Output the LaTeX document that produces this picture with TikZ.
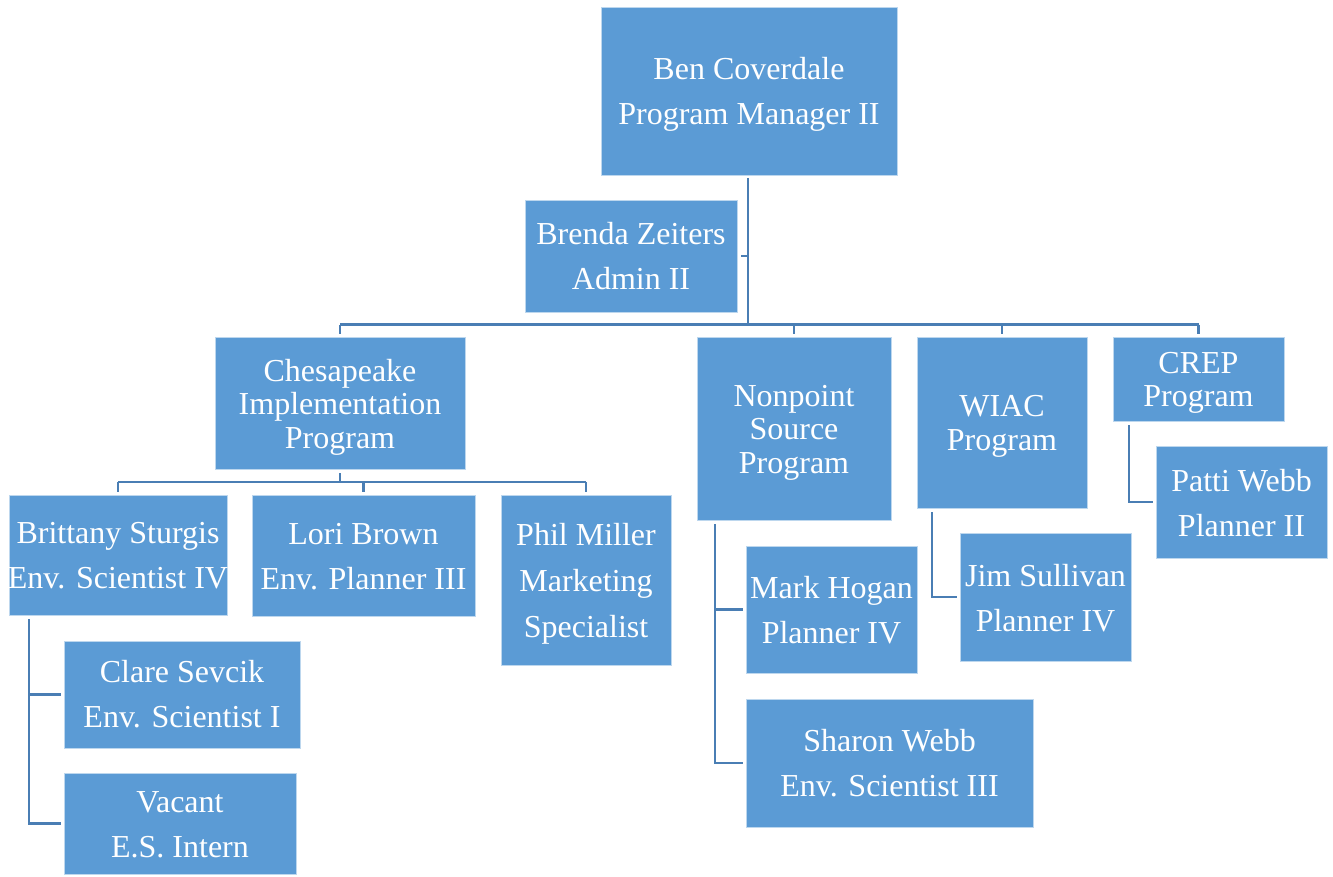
\documentclass[tikz,border=0pt]{standalone}
\usepackage{fontspec}
\setmainfont{Liberation Serif}
\definecolor{boxfill}{HTML}{5B9BD5}
\definecolor{boxedge}{HTML}{BDD7EE}
\definecolor{linkcol}{HTML}{4A7EB4}
\tikzset{
  orgbox/.style={rectangle, fill=boxfill, draw=boxedge, line width=0.8pt,
    inner sep=0pt, outer sep=0pt},
  orgtext/.style={text=white, align=center, inner sep=0pt, font=\fontsize{32}{45}\selectfont},
  tight/.style={font=\fontsize{32}{33.5}\selectfont},
  link/.style={draw=linkcol, line width=2.6pt},
}
\begin{document}
\begin{tikzpicture}[x=1pt,y=-1pt]
\useasboundingbox (0,0) rectangle (1333,877);
% top levels
\node[orgbox, minimum width=296pt, minimum height=168pt] (ben) at (749,91) {};
\node[orgtext, yshift=-3pt] (bent) at (ben) {Ben Coverdale\\Program Manager II};
\node[orgbox, minimum width=212pt, minimum height=112pt] (brenda) at (631,256) {};
\node[orgtext] (brendat) at (brenda) {Brenda Zeiters\\Admin II};
% programs
\node[orgbox, minimum width=250pt, minimum height=132pt] (ches) at (340,403) {};
\node[orgtext, tight, yshift=-4pt] (chest) at (ches) {Chesapeake\\Implementation\\Program};
\node[orgbox, minimum width=194pt, minimum height=183pt] (nps) at (794,428.5) {};
\node[orgtext, tight, yshift=-4pt] (npst) at (nps) {Nonpoint\\Source\\Program};
\node[orgbox, minimum width=170pt, minimum height=171pt] (wiac) at (1002,422.5) {};
\node[orgtext, tight, yshift=-4pt] (wiact) at (wiac) {WIAC\\Program};
\node[orgbox, minimum width=171pt, minimum height=84pt] (crep) at (1198.5,379) {};
\node[orgtext, tight, yshift=-4pt] (crept) at (crep) {CREP\\Program};
% Chesapeake staff
\node[orgbox, minimum width=218pt, minimum height=120pt] (brit) at (118,555) {};
\node[orgtext, yshift=-1pt] (britt) at (brit) {Brittany Sturgis\\Env. Scientist IV};
\node[orgbox, minimum width=223pt, minimum height=121pt] (lori) at (363.5,555.5) {};
\node[orgtext, yshift=-1pt] (lorit) at (lori) {Lori Brown\\Env. Planner III};
\node[orgbox, minimum width=170pt, minimum height=170pt] (phil) at (586,580) {};
\node[orgtext, font=\fontsize{32}{46}\selectfont, yshift=-4pt] (philt) at (phil) {Phil Miller\\Marketing\\Specialist};
\node[orgbox, minimum width=236pt, minimum height=107pt] (clare) at (182,694.5) {};
\node[orgtext] (claret) at (clare) {Clare Sevcik\\Env. Scientist I};
\node[orgbox, minimum width=232pt, minimum height=101pt] (vacant) at (180,823.5) {};
\node[orgtext, yshift=-1pt] (vacantt) at (vacant) {Vacant\\E.S. Intern};
% other staff
\node[orgbox, minimum width=171pt, minimum height=127pt] (mark) at (831.5,609.5) {};
\node[orgtext, yshift=-1pt] (markt) at (mark) {Mark Hogan\\Planner IV};
\node[orgbox, minimum width=287pt, minimum height=128pt] (sharon) at (889.5,763) {};
\node[orgtext] (sharont) at (sharon) {Sharon Webb\\Env. Scientist III};
\node[orgbox, minimum width=171pt, minimum height=128pt] (jim) at (1045.5,597) {};
\node[orgtext, yshift=-1pt] (jimt) at (jim) {Jim Sullivan\\Planner IV};
\node[orgbox, minimum width=171pt, minimum height=112pt] (patti) at (1241.5,502) {};
\node[orgtext, yshift=-1pt] (pattit) at (patti) {Patti Webb\\Planner II};
% connectors: top
\coordinate (bar) at (748,324.5);
\draw[link, shorten <=3pt] (ben.south -| bar) -- (bar);
\draw[link, shorten <=4pt] (brenda.east) -- (brenda.east -| bar);
\draw[link] (ches.north |- bar) -- (crep.north |- bar);
\draw[link, shorten >=3pt] (ches.north |- bar) -- (ches.north);
\draw[link, shorten >=3pt] (nps.north |- bar) -- (nps.north);
\draw[link, shorten >=3pt] (wiac.north |- bar) -- (wiac.north);
\draw[link, shorten >=3pt] (crep.north |- bar) -- (crep.north);
% Chesapeake children
\coordinate (cbar) at (340,482);
\draw[link, shorten <=4pt] (ches.south) -- (cbar);
\draw[link] (brit.north |- cbar) -- (phil.north |- cbar);
\draw[link, shorten >=3pt] (brit.north |- cbar) -- (brit.north);
\draw[link, shorten >=3pt] (lori.north |- cbar) -- (lori.north);
\draw[link, shorten >=3pt] (phil.north |- cbar) -- (phil.north);
% Brittany children
\coordinate (bv) at (29,615);
\draw[link, shorten <=4pt, shorten >=3pt] (bv) |- (vacant.west);
\draw[link, shorten >=3pt] (bv |- clare.west) -- (clare.west);
% Nonpoint children
\coordinate (nv) at (715,520);
\draw[link, shorten <=4pt, shorten >=3pt] (nv) |- (sharon.west);
\draw[link, shorten >=3pt] (nv |- mark.west) -- (mark.west);
% WIAC child
\coordinate (wv) at (932,508);
\draw[link, shorten <=4pt, shorten >=3pt] (wv) |- (jim.west);
% CREP child
\coordinate (cv) at (1129,421);
\draw[link, shorten <=4pt, shorten >=3pt] (cv) |- (patti.west);
\end{tikzpicture}
\end{document}
